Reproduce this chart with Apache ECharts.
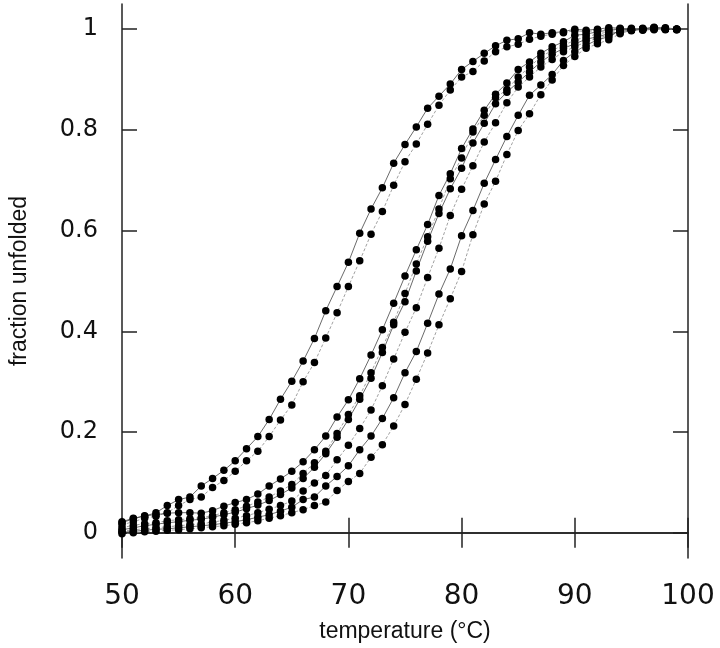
<!DOCTYPE html>
<html>
<head>
<meta charset="utf-8">
<script src="https://cdn.jsdelivr.net/npm/echarts@6.0.0/dist/echarts.min.js"></script>
<style>
  html, body { margin: 0; padding: 0; background: #fff; }
  #chart { width: 720px; height: 648px; }
</style>
</head>
<body>
<div id="chart"></div>
<script>
// temperature (°C) of each reading
const temps = [50, 51, 52, 53, 54, 55, 56, 57, 58, 59, 60, 61, 62, 63, 64, 65, 66, 67, 68, 69,
  70, 71, 72, 73, 74, 75, 76, 77, 78, 79, 80, 81, 82, 83, 84, 85, 86, 87, 88, 89,
  90, 91, 92, 93, 94, 95, 96, 97, 98, 99];

// fraction unfolded, one array per melting curve
const curveA = [.022, .029, .033, .040, .054, .066, .071, .093, .108, .124, .143, .167, .191, .225, .265, .301, .341, .386, .441, .489,
  .537, .595, .643, .685, .734, .771, .806, .843, .867, .891, .920, .936, .952, .967, .978, .981, .993, .990, .993, .995,
  1.000, .998, 1.000, 1.003, 1.002, .998, 1.000, 1.004, 1.002, .999];
const curveB = [.016, .022, .029, .033, .040, .054, .066, .071, .090, .104, .122, .143, .162, .191, .224, .254, .300, .338, .387, .437,
  .489, .540, .593, .638, .690, .737, .772, .811, .849, .879, .905, .916, .937, .955, .965, .970, .980, .986, .990, .993,
  .997, .995, .998, 1.000, 1.001, .999, 1.001, 1.003, 1.000, 1.000];
const curveC = [.020, .028, .034, .036, .039, .040, .040, .039, .044, .053, .060, .066, .077, .093, .107, .122, .141, .165, .192, .230,
  .264, .306, .353, .403, .456, .510, .562, .612, .670, .713, .763, .802, .839, .871, .893, .920, .935, .952, .965, .975,
  .988, .990, .995, .998, 1.000, 1.002, .998, 1.000, 1.003, 1.000];
const curveD = [.010, .015, .018, .020, .024, .026, .028, .030, .034, .040, .046, .053, .061, .071, .083, .096, .118, .139, .162, .197,
  .235, .272, .318, .368, .418, .475, .534, .588, .643, .703, .744, .796, .829, .864, .880, .905, .925, .945, .958, .968,
  .978, .985, .990, .995, .998, 1.000, 1.002, .999, 1.001, 1.000];
const curveE = [.006, .010, .014, .017, .020, .022, .025, .027, .031, .036, .041, .048, .055, .064, .076, .089, .108, .130, .157, .190,
  .225, .265, .307, .358, .413, .459, .520, .579, .634, .683, .724, .774, .813, .852, .875, .895, .915, .935, .950, .962,
  .971, .980, .985, .991, .995, .998, 1.000, 1.002, .999, 1.000];
const curveF = [.003, .006, .008, .010, .012, .014, .016, .018, .021, .025, .029, .034, .040, .047, .054, .063, .083, .099, .114, .145,
  .174, .207, .244, .292, .345, .398, .447, .507, .565, .630, .682, .729, .776, .814, .854, .885, .905, .925, .940, .955,
  .965, .975, .982, .988, .993, .997, 1.000, 1.001, 1.000, .999];
const curveG = [.001, .003, .005, .007, .008, .010, .012, .014, .016, .019, .022, .026, .031, .036, .043, .051, .066, .071, .093, .112,
  .133, .165, .192, .227, .268, .318, .360, .416, .474, .524, .590, .640, .694, .741, .787, .829, .869, .889, .910, .938,
  .955, .968, .979, .985, .998, 1.000, 1.001, 1.003, 1.000, 1.000];
const curveH = [-.002, .000, .002, .003, .005, .006, .008, .010, .012, .014, .017, .020, .024, .029, .034, .040, .046, .054, .061, .084,
  .102, .118, .150, .175, .212, .255, .305, .357, .413, .465, .519, .592, .653, .698, .751, .799, .832, .870, .899, .928,
  .946, .962, .971, .979, .991, .998, .999, 1.002, 1.001, 1.000];

const yTicks = [0, 0.2, 0.4, 0.6, 0.8, 1];

const curves = [curveA, curveB, curveC, curveD, curveE, curveF, curveG, curveH];

const chart = echarts.init(document.getElementById("chart"));

const frameLine = { show: true, lineStyle: { color: "#222", width: 1.5 } };
const frameTick = { show: true, inside: true, length: 15, lineStyle: { color: "#222", width: 1.5 } };

const series = curves.map((vals, i) => ({
  type: "line",
  data: temps.map((t, k) => [t, vals[k]]),
  symbol: "circle",
  symbolSize: 7.5,
  showAllSymbol: true,
  itemStyle: { color: "#000" },
  lineStyle: {
    color: i % 2 === 0 ? "#444" : "#888",
    width: 0.8,
    type: i % 2 === 0 ? "solid" : [3, 2],
  },
  silent: true,
  z: 3,
}));

chart.setOption({
  animation: false,
  backgroundColor: "#fff",
  grid: { left: 122, right: 32, top: 4, bottom: 90 },
  xAxis: [
    {
      type: "value",
      min: 50,
      max: 100,
      interval: 10,
      position: "bottom",
      axisLine: frameLine,
      axisTick: frameTick,
      splitLine: { show: false },
      axisLabel: {
        margin: 25,
        fontSize: 28,
        color: "#111",
        fontFamily: "DejaVu Sans",
        showMinLabel: true,
        showMaxLabel: true,
      },
      name: "temperature (°C)",
      nameLocation: "middle",
      nameGap: 62,
      nameTextStyle: { fontSize: 23, color: "#111", fontFamily: "Liberation Sans" },
    },
    {
      type: "value",
      min: 50,
      max: 100,
      interval: 10,
      position: "top",
      axisLine: frameLine,
      axisTick: frameTick,
      axisLabel: { show: false },
      splitLine: { show: false },
    },
  ],
  yAxis: [
    {
      type: "value",
      min: -0.05,
      max: 1.05,
      position: "left",
      axisLine: frameLine,
      axisTick: Object.assign({ customValues: yTicks }, frameTick),
      splitLine: { show: false },
      axisLabel: {
        customValues: yTicks,
        margin: 24,
        fontSize: 24,
        color: "#111",
        fontFamily: "DejaVu Sans",
        formatter: (v) => String(Math.round(v * 10) / 10),
      },
      name: "fraction unfolded",
      nameLocation: "middle",
      nameGap: 91,
      nameRotate: 90,
      nameTextStyle: { fontSize: 23, color: "#111", fontFamily: "Liberation Sans" },
    },
    {
      type: "value",
      min: -0.05,
      max: 1.05,
      position: "right",
      axisLine: frameLine,
      axisTick: Object.assign({ customValues: yTicks }, frameTick),
      axisLabel: { show: false },
      splitLine: { show: false },
    },
  ],
  series: series,
});
</script>
</body>
</html>
